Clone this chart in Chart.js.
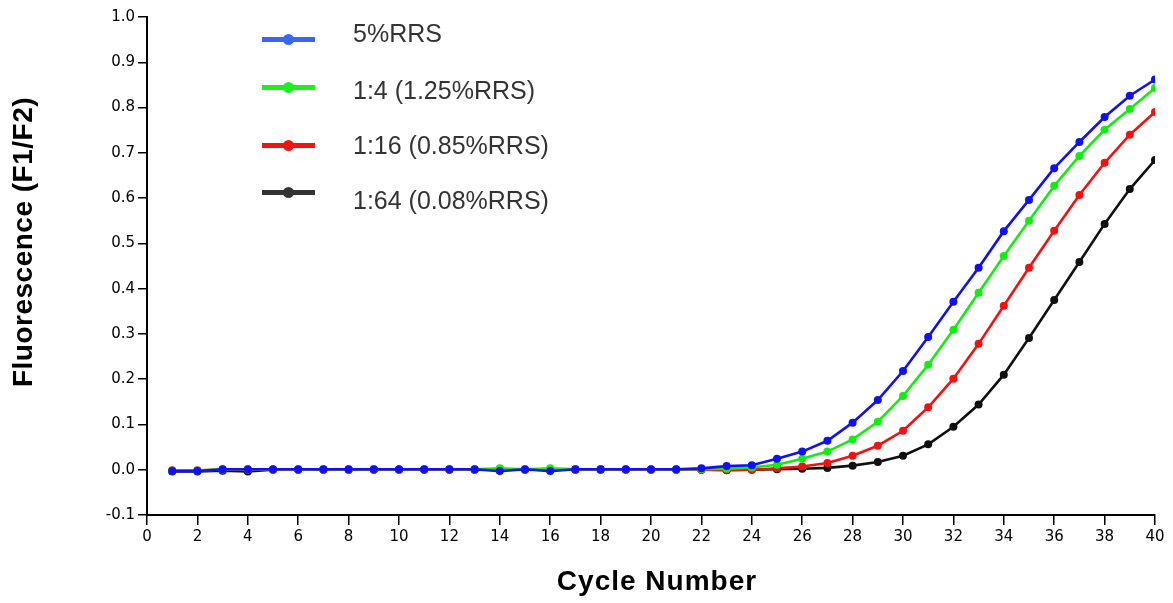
<!DOCTYPE html>
<html lang="en">
<head>
  <title>Fluorescence curves</title>
  <meta charset="utf-8">
  <script src="https://cdn.jsdelivr.net/npm/chart.js@4.4.1/dist/chart.umd.min.js"></script>
  <style>
    body {
      margin: 0;
      background: #fff;
      font-family: "Liberation Sans", Arial, sans-serif;
    }
    .wrap {
      position: relative;
      width: 1173px;
      height: 603px;
    }
    .legend {
      position: absolute;
      left: 262px;
      top: 0;
    }
    .legend .row {
      position: absolute;
      left: 0;
      width: 320px;
      height: 30px;
    }
    .legend .swatch {
      position: absolute;
      left: 0;
      width: 53px;
      height: 5px;
    }
    .legend .swatch span {
      position: absolute;
      left: 21px;
      top: -3px;
      width: 11px;
      height: 11px;
      border-radius: 50%;
      background: inherit;
    }
    .legend .label {
      position: absolute;
      left: 91px;
      font-size: 25px;
      line-height: 30px;
      color: #333;
      white-space: nowrap;
    }
    /* row placement, read off the original */
    .legend .row:nth-child(1) .swatch { top: 37px; }
    .legend .row:nth-child(1) .label  { top: 18px; }
    .legend .row:nth-child(2) .swatch { top: 85px; }
    .legend .row:nth-child(2) .label  { top: 75px; }
    .legend .row:nth-child(3) .swatch { top: 143px; }
    .legend .row:nth-child(3) .label  { top: 130px; }
    .legend .row:nth-child(4) .swatch { top: 190px; }
    .legend .row:nth-child(4) .label  { top: 185px; }
  </style>
</head>
<body>
<div class="wrap">
  <canvas id="myChart" width="1173" height="603"></canvas>
  <div class="legend" id="legend"></div>
</div>

<script>
var cycles = [1, 2, 3, 4, 5, 6, 7, 8, 9, 10, 11, 12, 13, 14, 15, 16, 17, 18, 19, 20,
              21, 22, 23, 24, 25, 26, 27, 28, 29, 30, 31, 32, 33, 34, 35, 36, 37, 38, 39, 40];

var rrs5 = [-0.003, -0.003, 0.001, 0.001, 0.001, 0.001, 0.001, 0.001, 0.001, 0.001,
            0.001, 0.001, 0.001, -0.003, 0.001, -0.003, 0.001, 0.001, 0.001, 0.001,
            0.001, 0.003, 0.008, 0.010, 0.024, 0.040, 0.064, 0.104, 0.154, 0.218,
            0.293, 0.371, 0.446, 0.527, 0.596, 0.666, 0.724, 0.779, 0.826, 0.862];

var dil4 = [-0.002, -0.002, 0.001, 0.001, 0.001, 0.001, 0.001, 0.001, 0.001, 0.001,
            0.001, 0.001, 0.001, 0.003, 0.001, 0.003, 0.001, 0.001, 0.001, 0.001,
            0.001, 0.001, 0.002, 0.005, 0.011, 0.024, 0.040, 0.067, 0.106, 0.163,
            0.232, 0.309, 0.391, 0.472, 0.550, 0.627, 0.693, 0.751, 0.797, 0.843];

var dil16 = [-0.001, -0.001, 0.000, 0.000, 0.000, 0.000, 0.000, 0.000, 0.000, 0.000,
             0.000, 0.000, 0.000, 0.000, 0.000, 0.000, 0.000, 0.000, 0.000, 0.000,
             0.000, 0.000, 0.000, 0.000, 0.003, 0.007, 0.015, 0.031, 0.053, 0.086,
             0.138, 0.201, 0.278, 0.362, 0.446, 0.528, 0.607, 0.678, 0.740, 0.790];

var dil64 = [-0.004, -0.004, -0.002, -0.004, 0.000, 0.000, 0.000, 0.000, 0.000, 0.000,
             0.000, 0.000, 0.000, 0.000, 0.000, 0.000, 0.000, 0.000, 0.000, 0.000,
             0.000, 0.000, -0.001, 0.000, 0.001, 0.002, 0.004, 0.009, 0.017, 0.031,
             0.056, 0.095, 0.144, 0.210, 0.291, 0.375, 0.459, 0.543, 0.620, 0.684];

var labels = ["5%RRS", "1:4 (1.25%RRS)", "1:16 (0.85%RRS)", "1:64 (0.08%RRS)"];
var lineColors = ["#1010f5", "#10ee10", "#f51010", "#101010"];
var legendColors = ["#3a66f2", "#1ef01e", "#f21414", "#333333"];

var xTicks = [0, 2, 4, 6, 8, 10, 12, 14, 16, 18, 20, 22, 24, 26, 28, 30, 32, 34, 36, 38, 40];
var yTicks = [-0.1, 0.0, 0.1, 0.2, 0.3, 0.4, 0.5, 0.6, 0.7, 0.8, 0.9, 1.0];

var xTitle = "Cycle Number";
var yTitle = "Fluorescence (F1/F2)";

function pairs(ys) {
  var out = [];
  for (var i = 0; i < cycles.length; i++) {
    out.push({x: cycles[i], y: ys[i]});
  }
  return out;
}

var series = [rrs5, dil4, dil16, dil64];
var datasets = [];
for (var i = 0; i < series.length; i++) {
  datasets.push({
    label: labels[i],
    data: pairs(series[i]),
    borderColor: lineColors[i],
    backgroundColor: lineColors[i],
    borderWidth: 2.6,
    pointRadius: 4,
    pointBorderWidth: 0,
    tension: 0
  });
}

// legend drawn as html rows
var legendHtml = "";
for (var j = 0; j < labels.length; j++) {
  legendHtml += '<div class="row"><div class="swatch" style="background:' + legendColors[j] +
    '"><span></span></div><div class="label">' + labels[j] + '</div></div>';
}
document.getElementById("legend").innerHTML = legendHtml;

// axis titles sit a bit off the centre of the axes in the original, so draw them by hand
var axisTitles = {
  id: "axisTitles",
  afterDraw: function(chart) {
    var ctx = chart.ctx;
    ctx.save();
    ctx.fillStyle = "#000";
    ctx.font = "bold 28px 'Liberation Sans', Arial, sans-serif";
    ctx.textAlign = "center";
    ctx.textBaseline = "middle";
    ctx.letterSpacing = "1px";
    ctx.fillText(xTitle, 657, 582);
    ctx.translate(24, 242);
    ctx.rotate(-Math.PI / 2);
    ctx.letterSpacing = "0.5px";
    ctx.fillText(yTitle, 0, 0);
    ctx.restore();
  }
};

var tickFont = {family: "DejaVu Sans", size: 15};

new Chart("myChart", {
  type: "line",
  data: {datasets: datasets},
  plugins: [axisTitles],
  options: {
    responsive: false,
    animation: false,
    layout: {padding: {top: 17, right: 18, left: 0, bottom: 0}},
    plugins: {
      legend: {display: false},
      tooltip: {enabled: false}
    },
    scales: {
      x: {
        type: "linear",
        min: 0,
        max: 40,
        afterBuildTicks: function(scale) {
          scale.ticks = xTicks.map(function(v) { return {value: v}; });
        },
        afterFit: function(scale) { scale.height = 88; },
        grid: {drawOnChartArea: false, drawTicks: true, tickLength: 10, color: "#000", lineWidth: 1.5},
        border: {display: true, color: "#000", width: 2},
        ticks: {color: "#000", font: tickFont, padding: 3, maxRotation: 0, autoSkip: false}
      },
      y: {
        min: -0.1,
        max: 1.0,
        afterBuildTicks: function(scale) {
          scale.ticks = yTicks.map(function(v) { return {value: v}; });
        },
        afterFit: function(scale) { scale.width = 147; },
        grid: {drawOnChartArea: false, drawTicks: true, tickLength: 9, color: "#000", lineWidth: 1.5},
        border: {display: true, color: "#000", width: 2},
        ticks: {
          color: "#000",
          font: tickFont,
          padding: 3,
          autoSkip: false,
          callback: function(v) { return v.toFixed(1); }
        }
      }
    }
  }
});
</script>
</body>
</html>
